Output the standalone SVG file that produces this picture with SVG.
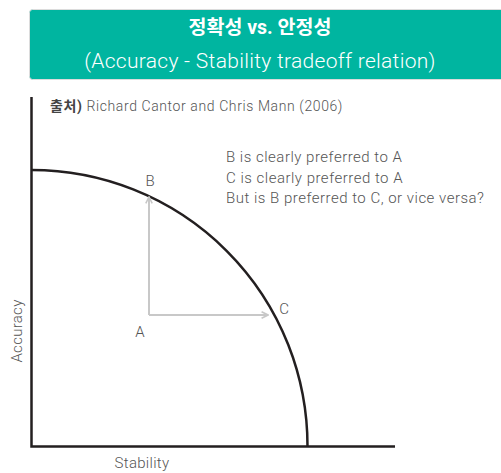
<svg xmlns="http://www.w3.org/2000/svg" width="501" height="473" viewBox="0 0 501 473">
<style>
.t{font-family:"Roboto","Noto Sans CJK KR",sans-serif;fill:#555;font-weight:300;}
.ax{stroke:#231f20;stroke-width:2.5;fill:none;}
.ar{stroke:#c8c8c8;stroke-width:2;fill:none;}
</style>
<defs>
<marker id="chev" viewBox="0 0 10 10" refX="9" refY="5" markerWidth="8" markerHeight="8" markerUnits="userSpaceOnUse" orient="auto">
<path d="M1,1 L9,5 L1,9" fill="none" stroke="#c8c8c8" stroke-width="2"/>
</marker>
</defs>
<rect width="501" height="473" fill="#fff"/>
<g id="header">
<rect x="29.5" y="9.5" width="480" height="70" rx="3" fill="#00b5a0" stroke="#dcdcdc" stroke-width="1"/>
<text x="260" y="34" text-anchor="middle" font-family="Roboto,'Noto Sans CJK KR',sans-serif" font-size="19.5" font-weight="bold" fill="#fff">정확성 vs. 안정성</text>
<text x="260" y="68" text-anchor="middle" font-family="Roboto,'Noto Sans CJK KR',sans-serif" font-size="21" font-weight="300" letter-spacing="0.3" fill="#fff">(Accuracy - Stability tradeoff relation)</text>
</g>
<g id="source">
<text x="50" y="111" class="t" font-size="14" letter-spacing="0.6"><tspan font-weight="bold" fill="#444">출처)</tspan> Richard Cantor and Chris Mann (2006)</text>
</g>
<g id="notes">
<text x="226" y="162" class="t" font-size="15" letter-spacing="0.5">B is clearly preferred to A</text>
<text x="226" y="183" class="t" font-size="15" letter-spacing="0.5">C is clearly preferred to A</text>
<text x="226" y="203" class="t" font-size="15" letter-spacing="0.5">But is B preferred to C, or vice versa?</text>
</g>
<g id="axes">
<path class="ax" d="M31.5,97 V446.5 H395"/>
<text x="22" y="331" class="t" font-size="15" letter-spacing="0.3" text-anchor="middle" transform="rotate(-90 22 331)">Accuracy</text>
<text x="142" y="468" class="t" font-size="15" letter-spacing="0.3" text-anchor="middle">Stability</text>
</g>
<g id="frontier">
<path class="ax" d="M31.5,170 A276,276 0 0 1 307.5,446.5"/>
</g>
<g id="A">
<text x="140" y="337" class="t" font-size="15" text-anchor="middle">A</text>
</g>
<g id="B">
<text x="150" y="186" class="t" font-size="15" text-anchor="middle">B</text>
</g>
<g id="C">
<text x="284" y="314" class="t" font-size="15" text-anchor="middle">C</text>
</g>
<g id="connectors">
<path class="ar" d="M149,315 V197" marker-end="url(#chev)"/>
<path class="ar" d="M149,315 H268" marker-end="url(#chev)"/>
</g>
</svg>
